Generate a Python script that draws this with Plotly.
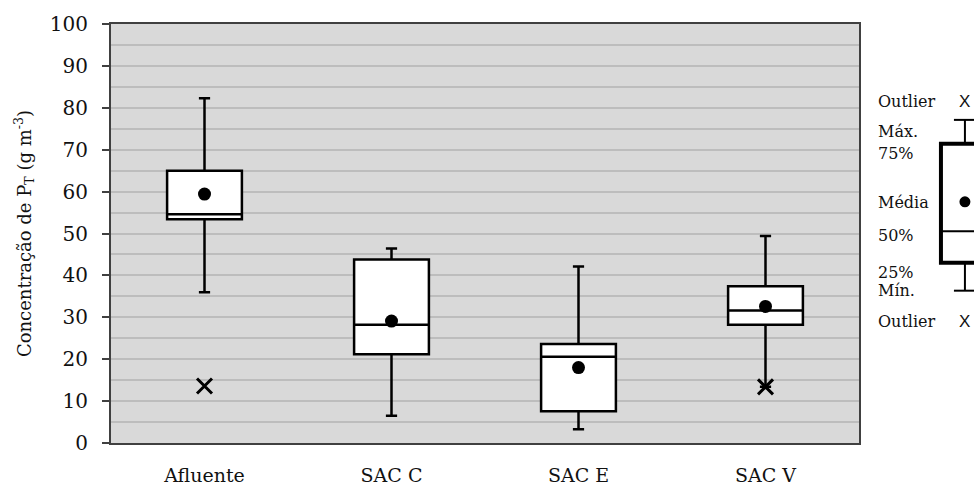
import plotly.graph_objects as go

# Total phosphorus concentration per sampling point (g m-3)
categories = ["Afluente", "SAC C", "SAC E", "SAC V"]
minimum = [36.0, 6.5, 3.3, 13.4]
q1 = [53.4, 21.2, 7.6, 28.2]
median = [54.6, 28.2, 20.6, 31.6]
q3 = [65.0, 43.8, 23.6, 37.4]
maximum = [82.3, 46.4, 42.1, 49.4]
mean = [59.4, 29.1, 18.0, 32.6]
outlier_cat = ["Afluente", "SAC V"]
outlier_val = [13.6, 13.4]

y_ticks = list(range(0, 101, 10))

SERIF = "DejaVu Serif"
W, H = 974, 485
L, R, T, B = 110.5, 859, 23.5, 443

fig = go.Figure()

fig.add_trace(go.Box(
    x=categories, q1=q1, median=median, q3=q3,
    lowerfence=minimum, upperfence=maximum,
    width=0.4, whiskerwidth=0.15,
    fillcolor="white", line=dict(color="black", width=2.5),
    boxpoints=False, showlegend=False, hoverinfo="skip",
))

fig.add_trace(go.Scatter(
    x=categories, y=mean, mode="markers",
    marker=dict(symbol="circle", size=13, color="black"),
    showlegend=False,
))

fig.add_trace(go.Scatter(
    x=outlier_cat, y=outlier_val, mode="markers",
    marker=dict(symbol="x-thin", size=15, line=dict(color="black", width=3)),
    showlegend=False,
))

# Key graphic on the right, placed in pixel terms
def px(x):
    return (x - L) / (R - L)

def py(y):
    return (B - y) / (B - T)

shapes = []
line_k = dict(color="black", width=2)
kx = 965
# whiskers with caps
shapes.append(dict(type="line", xref="paper", yref="paper", x0=px(kx), x1=px(kx), y0=py(119.5), y1=py(143.5), line=line_k))
shapes.append(dict(type="line", xref="paper", yref="paper", x0=px(954), x1=px(980), y0=py(119.5), y1=py(119.5), line=line_k))
shapes.append(dict(type="line", xref="paper", yref="paper", x0=px(kx), x1=px(kx), y0=py(262.5), y1=py(290.5), line=line_k))
shapes.append(dict(type="line", xref="paper", yref="paper", x0=px(954), x1=px(980), y0=py(290.5), y1=py(290.5), line=line_k))
# box
shapes.append(dict(type="rect", xref="paper", yref="paper", x0=px(941), x1=px(1000), y0=py(262.5), y1=py(143.5),
                   line=dict(color="black", width=4), fillcolor="white"))
shapes.append(dict(type="line", xref="paper", yref="paper", x0=px(941), x1=px(1000), y0=py(231), y1=py(231), line=line_k))
# mean dot
shapes.append(dict(type="circle", xref="paper", yref="paper", x0=px(959.5), x1=px(970.5), y0=py(207), y1=py(196),
                   line=dict(width=0), fillcolor="black"))

annotations = []
key_labels = [("Outlier", 101), ("Máx.", 131.5), ("75%", 153), ("Média", 202.5),
              ("50%", 235), ("25%", 272), ("Mín.", 290.5), ("Outlier", 321)]
for text, y in key_labels:
    annotations.append(dict(text=text, xref="paper", yref="paper", x=px(876), y=py(y),
                            xanchor="left", yanchor="middle", showarrow=False,
                            font=dict(family=SERIF, size=16, color="#111")))
for y in (101, 321):
    annotations.append(dict(text="X", xref="paper", yref="paper", x=px(kx), y=py(y),
                            xanchor="center", yanchor="middle", showarrow=False,
                            font=dict(family="Liberation Sans", size=17, color="#111")))

fig.update_layout(
    width=W, height=H,
    margin=dict(l=L, r=W - R, t=T, b=H - B, autoexpand=False),
    paper_bgcolor="white", plot_bgcolor="#d9d9d9",
    shapes=shapes, annotations=annotations,
    showlegend=False,
    xaxis=dict(
        range=[-0.5, 3.5], showgrid=False, ticks="",
        showline=True, linecolor="#404040", linewidth=2, mirror=True,
        tickfont=dict(family=SERIF, size=19, color="#111"),
        ticklabelstandoff=14, automargin=False,
    ),
    yaxis=dict(
        range=[0, 100], tickvals=y_ticks, ticktext=[str(v) for v in y_ticks],
        ticks="outside", ticklen=7, tickcolor="#404040", tickwidth=1.5,
        showline=True, linecolor="#404040", linewidth=2, mirror=True,
        showgrid=True, gridcolor="#bdbdbd", gridwidth=1.5,
        minor=dict(dtick=5, showgrid=True, gridcolor="#bdbdbd", gridwidth=1.5),
        zeroline=False, automargin=False,
        ticklabelstandoff=10,
        tickfont=dict(family=SERIF, size=20, color="#111"),
        title=dict(text="Concentração de P<sub>T</sub> (g m<sup>-3</sup>)",
                   font=dict(family=SERIF, size=18, color="#111"), standoff=14),
    ),
)

fig.write_html("out.html")
